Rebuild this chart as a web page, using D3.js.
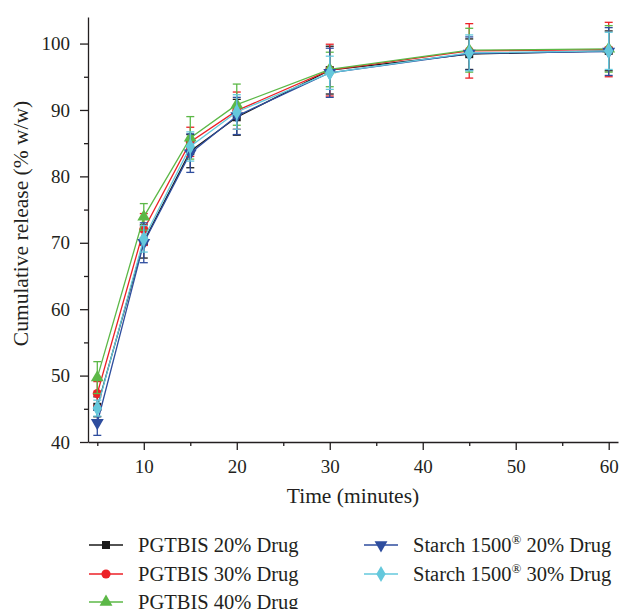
<!DOCTYPE html>
<html>
<head>
<meta charset="utf-8">
<script src="https://cdn.jsdelivr.net/npm/d3@7"></script>
<style>
  html, body { margin: 0; padding: 0; background: #fff; }
  svg { display: block; }
  text { font-family: "Liberation Serif", "DejaVu Serif", serif; fill: #231f20; }
</style>
</head>
<body>
<svg id="chart" width="620" height="609"></svg>
<script>
// Dissolution time points (minutes)
const times = [5, 10, 15, 20, 30, 45, 60];

// Mean cumulative release (% w/w) for each formulation
const pgtbis20 = [45.3, 70.2, 83.8, 88.9, 96.0, 98.4, 98.9];
const pgtbis30 = [47.3, 72.0, 85.2, 89.9, 96.0, 98.9, 99.1];
const pgtbis40 = [49.7, 73.9, 85.8, 90.8, 96.1, 99.0, 99.2];
const starch20 = [42.9, 70.0, 83.5, 89.1, 95.6, 98.5, 98.8];
const starch30 = [45.1, 70.6, 84.5, 89.7, 95.6, 98.6, 98.9];

// Standard deviations
const pgtbis20Err = [1.5, 2.5, 2.5, 2.7, 3.6, 2.3, 3.0];
const pgtbis30Err = [1.8, 2.4, 2.2, 2.8, 3.9, 4.1, 4.1];
const pgtbis40Err = [2.4, 2.0, 3.2, 3.1, 2.6, 3.3, 3.5];
const starch20Err = [1.9, 3.0, 2.9, 2.8, 3.7, 2.5, 3.6];
const starch30Err = [1.2, 2.0, 2.2, 2.6, 2.5, 2.7, 2.8];

// Axis ticks
const xTicks = [10, 20, 30, 40, 50, 60];
const xMinorTicks = [5, 15, 25, 35, 45, 55];
const yTicks = [40, 50, 60, 70, 80, 90, 100];
const yMinorTicks = [45, 55, 65, 75, 85, 95];

const series = [
  { name: "PGTBIS 20% Drug", values: pgtbis20, err: pgtbis20Err, color: "#1a1a1a", symbol: "square" },
  { name: "PGTBIS 30% Drug", values: pgtbis30, err: pgtbis30Err, color: "#ec2127", symbol: "circle" },
  { name: "PGTBIS 40% Drug", values: pgtbis40, err: pgtbis40Err, color: "#5cb847", symbol: "triangle" },
  { name: "Starch 1500", sup: "®", tail: " 20% Drug", values: starch20, err: starch20Err, color: "#2e4d9e", symbol: "down" },
  { name: "Starch 1500", sup: "®", tail: " 30% Drug", values: starch30, err: starch30Err, color: "#64c8dc", symbol: "diamond" }
];

const svg = d3.select("#chart");
const plot = { left: 88, right: 618, top: 17, bottom: 442 };

const x = d3.scaleLinear().domain([4, 61]).range([plot.left, plot.right]);
const y = d3.scaleLinear().domain([40, 104]).range([plot.bottom, plot.top]);

// Axes: major ticks with labels, minor ticks without
const xAxis = svg.append("g").attr("transform", `translate(0,${plot.bottom})`)
  .call(d3.axisBottom(x).tickValues(xTicks).tickSize(8).tickSizeOuter(0).tickPadding(10));
svg.append("g").attr("transform", `translate(0,${plot.bottom})`)
  .call(d3.axisBottom(x).tickValues(xMinorTicks).tickSize(4).tickSizeOuter(0).tickFormat(""))
  .select(".domain").remove();

const yAxis = svg.append("g").attr("transform", `translate(${plot.left},0)`)
  .call(d3.axisLeft(y).tickValues(yTicks).tickSize(8).tickSizeOuter(0).tickPadding(10));
svg.append("g").attr("transform", `translate(${plot.left},0)`)
  .call(d3.axisLeft(y).tickValues(yMinorTicks).tickSize(4).tickSizeOuter(0).tickFormat(""))
  .select(".domain").remove();

svg.selectAll(".domain, .tick line").attr("stroke", "#231f20").attr("stroke-width", 1.3);
xAxis.selectAll("text").attr("font-size", 19).attr("font-family", "Liberation Serif").attr("fill", "#231f20");
yAxis.selectAll("text").attr("font-size", 19).attr("font-family", "Liberation Serif").attr("fill", "#231f20");

// Axis titles
svg.append("text")
  .attr("x", (plot.left + plot.right) / 2).attr("y", 503)
  .attr("text-anchor", "middle").attr("font-size", 21.5)
  .text("Time (minutes)");
svg.append("text")
  .attr("transform", `translate(28,${(plot.top + plot.bottom) / 2 - 6}) rotate(-90)`)
  .attr("text-anchor", "middle").attr("font-size", 21.5)
  .text("Cumulative release (% w/w)");

// Marker shapes
function symbolPath(kind) {
  switch (kind) {
    case "square": return d3.symbol(d3.symbolSquare, 64)();
    case "circle": return d3.symbol(d3.symbolCircle, 66)();
    case "triangle": return d3.symbol(d3.symbolTriangle, 72)();
    case "down": return d3.symbol(d3.symbolTriangle, 72)();
    case "diamond": return d3.symbol(d3.symbolDiamond, 76)();
  }
}
function symbolTransform(kind, cx, cy) {
  return kind === "down" ? `translate(${cx},${cy}) rotate(180)` : `translate(${cx},${cy})`;
}

const line = d3.line().x((d, i) => x(times[i])).y(d => y(d));
const cap = 4;

// Lines and error bars first, markers on top of each series
series.forEach(s => {
  const g = svg.append("g");
  g.append("path").datum(s.values)
    .attr("d", line).attr("fill", "none")
    .attr("stroke", s.color).attr("stroke-width", 1.3);

  const eb = g.selectAll(".eb").data(s.values).join("g").attr("class", "eb")
    .attr("stroke", s.color).attr("stroke-width", 1.3);
  eb.append("line")
    .attr("x1", (d, i) => x(times[i])).attr("x2", (d, i) => x(times[i]))
    .attr("y1", (d, i) => y(d - s.err[i])).attr("y2", (d, i) => y(d + s.err[i]));
  eb.append("line")
    .attr("x1", (d, i) => x(times[i]) - cap).attr("x2", (d, i) => x(times[i]) + cap)
    .attr("y1", (d, i) => y(d + s.err[i])).attr("y2", (d, i) => y(d + s.err[i]));
  eb.append("line")
    .attr("x1", (d, i) => x(times[i]) - cap).attr("x2", (d, i) => x(times[i]) + cap)
    .attr("y1", (d, i) => y(d - s.err[i])).attr("y2", (d, i) => y(d - s.err[i]));

  g.selectAll(".mk").data(s.values).join("path").attr("class", "mk")
    .attr("d", symbolPath(s.symbol))
    .attr("transform", (d, i) => symbolTransform(s.symbol, x(times[i]), y(d)))
    .attr("fill", s.color);
});

// Legend
const legendPos = [
  { lx: 89, ty: 545 }, { lx: 89, ty: 574 }, { lx: 89, ty: 602 },
  { lx: 364, ty: 545 }, { lx: 364, ty: 574 }
];
series.forEach((s, i) => {
  const p = legendPos[i];
  const g = svg.append("g").attr("transform", `translate(${p.lx},${p.ty})`);
  g.append("line").attr("x1", 0).attr("x2", 34).attr("y1", 0).attr("y2", 0)
    .attr("stroke", s.color).attr("stroke-width", 1.3);
  g.append("path").attr("d", symbolPath(s.symbol))
    .attr("transform", symbolTransform(s.symbol, 17, 0))
    .attr("fill", s.color);
  const t = g.append("text").attr("x", 49).attr("y", 7).attr("font-size", 20.5);
  t.append("tspan").text(s.name);
  if (s.sup) {
    t.append("tspan").attr("font-size", 13).attr("dy", -8).text(s.sup);
    t.append("tspan").attr("dy", 8).text(s.tail);
  }
});
</script>
</body>
</html>
